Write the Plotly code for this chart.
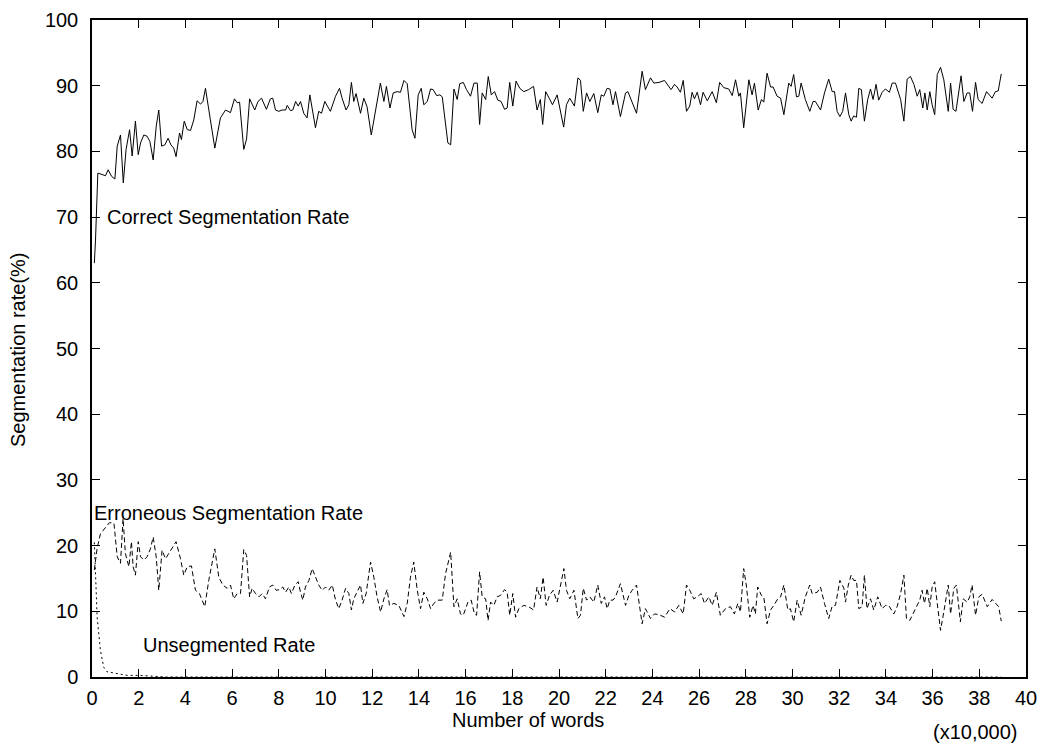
import plotly.graph_objects as go

# correct segmentation rate (%)
correct_x = [0.1, 0.15, 0.25, 0.44, 0.58, 0.69, 0.84, 0.98, 1.08, 1.22, 1.34, 1.46, 1.61, 1.72, 1.86, 1.98,
             2.08, 2.22, 2.36, 2.48, 2.62, 2.75, 2.86, 2.98, 3.12, 3.26, 3.38, 3.5, 3.6, 3.75, 3.83, 3.95,
             4.08, 4.22, 4.36, 4.5, 4.65, 4.75, 4.86, 5.07, 5.26, 5.5, 5.72, 5.93, 6.1, 6.22, 6.32, 6.5,
             6.62, 6.75, 6.97, 7.11, 7.26, 7.47, 7.64, 7.74, 7.86, 8.0, 8.14, 8.29, 8.36, 8.5, 8.6, 8.72,
             8.83, 8.93, 9.07, 9.21, 9.33, 9.57, 9.71, 9.83, 9.97, 10.21, 10.43, 10.6, 10.71, 10.88, 11.0,
             11.11, 11.21, 11.31, 11.5, 11.64, 11.78, 11.96, 12.14, 12.35, 12.5, 12.61, 12.76, 12.9, 13.07,
             13.21, 13.36, 13.5, 13.71, 13.83, 13.97, 14.1, 14.21, 14.36, 14.5, 14.61, 14.76, 14.9, 15.0,
             15.14, 15.24, 15.36, 15.5, 15.64, 15.75, 15.9, 16.04, 16.21, 16.36, 16.5, 16.6, 16.71, 16.86,
             16.97, 17.1, 17.24, 17.38, 17.52, 17.67, 17.78, 17.89, 18.02, 18.16, 18.32, 18.49, 18.7, 18.91,
             19.06, 19.2, 19.3, 19.43, 19.58, 19.72, 19.92, 20.06, 20.2, 20.32, 20.46, 20.66, 20.81, 20.92,
             21.04, 21.18, 21.32, 21.49, 21.66, 21.81, 21.92, 22.06, 22.18, 22.31, 22.42, 22.63, 22.85,
             22.95, 23.13, 23.32, 23.56, 23.7, 23.92, 24.06, 24.28, 24.52, 24.8, 24.95, 25.06, 25.2, 25.32,
             25.46, 25.6, 25.7, 25.8, 25.92, 26.06, 26.17, 26.35, 26.56, 26.74, 26.88, 27.06, 27.27, 27.42,
             27.56, 27.7, 27.77, 27.91, 28.13, 28.27, 28.37, 28.53, 28.67, 28.77, 28.91, 29.06, 29.17,
             29.34, 29.49, 29.63, 29.84, 29.94, 30.05, 30.17, 30.27, 30.37, 30.55, 30.74, 30.88, 30.98,
             31.2, 31.37, 31.55, 31.7, 31.8, 31.91, 32.03, 32.15, 32.27, 32.41, 32.51, 32.62, 32.74, 32.84,
             32.95, 33.08, 33.22, 33.34, 33.45, 33.58, 33.69, 33.84, 33.98, 34.15, 34.27, 34.41, 34.63,
             34.77, 34.91, 35.05, 35.2, 35.34, 35.45, 35.58, 35.67, 35.77, 35.88, 35.98, 36.09, 36.2, 36.34,
             36.48, 36.67, 36.77, 36.88, 37.0, 37.08, 37.22, 37.34, 37.48, 37.59, 37.71, 37.84, 37.95,
             38.12, 38.31, 38.55, 38.69, 38.81, 38.94]
correct_y = [63.0, 66.5, 76.7, 76.4, 76.3, 77.2, 76.2, 75.8, 80.8, 82.5, 75.2, 80.3, 83.3, 79.3, 84.6, 79.5,
             81.3, 82.5, 82.3, 81.5, 78.7, 83.8, 86.3, 80.8, 81.0, 82.0, 81.0, 80.5, 79.2, 82.8, 81.8, 84.6,
             83.3, 83.2, 84.8, 87.7, 87.2, 87.6, 89.6, 84.8, 80.5, 85.1, 86.3, 85.9, 88.0, 87.4, 87.5, 80.3,
             81.9, 88.0, 86.3, 87.6, 88.1, 86.4, 88.0, 88.1, 86.3, 86.1, 86.3, 86.3, 87.0, 86.2, 86.3, 87.6,
             86.9, 87.6, 85.8, 85.1, 88.6, 83.6, 86.1, 85.8, 87.6, 86.1, 88.4, 89.6, 88.1, 86.3, 87.1,
             90.5, 87.6, 88.8, 85.8, 88.1, 86.8, 82.5, 86.1, 90.4, 87.6, 89.9, 86.6, 88.9, 89.1,
             89.0, 90.8, 90.3, 83.3, 82.0, 88.6, 89.6, 87.1, 87.6, 89.5, 89.4, 88.5, 88.6, 88.3,
             84.3, 81.3, 81.0, 89.5, 87.9, 90.3, 90.5, 89.4, 88.4, 90.4, 90.4, 84.1, 88.9, 87.9,
             91.4, 88.6, 89.1, 87.8, 87.6, 86.4, 86.6, 90.5, 86.9, 90.7, 89.6, 89.1, 89.4, 89.9,
             86.3, 87.9, 84.1, 89.1, 88.1, 87.1, 88.6, 86.1, 83.7, 87.1, 88.1, 86.9, 91.2, 90.8,
             86.1, 88.9, 87.6, 88.8, 85.9, 88.6, 88.4, 89.6, 89.5, 87.1, 89.1, 85.3, 88.9,
             89.1, 87.5, 85.8, 92.2, 89.4, 91.2, 90.4, 90.5, 90.8, 89.4, 90.2, 89.8, 89.0, 90.8,
             86.1, 86.9, 89.0, 88.0, 89.0, 87.1, 89.0, 87.7, 89.1, 87.4, 90.5, 89.7, 89.5, 88.5,
             90.9, 88.4, 88.9, 83.6, 90.9, 88.6, 90.4, 86.3, 87.9, 87.5, 91.9, 89.8, 89.8,
             88.4, 88.1, 85.6, 90.4, 89.9, 91.7, 88.3, 88.4, 90.4, 87.9, 86.1, 87.6, 87.6,
             86.3, 88.9, 91.0, 89.1, 89.1, 86.1, 85.3, 86.1, 88.9, 85.6, 84.6, 85.4, 85.2, 89.6,
             89.4, 84.6, 87.9, 89.5, 87.9, 90.2, 87.8, 89.0, 89.5, 89.0, 90.4, 90.4, 87.9,
             84.6, 91.0, 91.4, 90.2, 88.4, 89.4, 86.6, 88.9, 86.3, 89.1, 87.1, 85.6, 91.7, 92.8,
             90.9, 86.1, 90.4, 86.4, 86.1, 88.4, 91.5, 87.6, 88.9, 88.9, 86.1, 90.5, 87.9,
             87.3, 89.1, 88.1, 89.1, 89.2, 91.8]

# erroneous segmentation rate (%)
error_x = [0.1, 0.22, 0.36, 0.58, 0.75, 0.94, 1.08, 1.22, 1.33, 1.43, 1.58, 1.69, 1.76, 1.86, 1.98, 2.08,
           2.22, 2.36, 2.5, 2.62, 2.75, 2.86, 3.0, 3.15, 3.36, 3.6, 3.79, 3.93, 4.08, 4.26, 4.43, 4.6,
           4.83, 5.0, 5.26, 5.43, 5.6, 5.79, 5.93, 6.07, 6.22, 6.36, 6.5, 6.62, 6.75, 6.86, 7.0, 7.15,
           7.29, 7.43, 7.6, 7.74, 7.89, 8.03, 8.17, 8.29, 8.43, 8.54, 8.69, 8.83, 8.93, 9.03, 9.14, 9.29,
           9.43, 9.57, 9.71, 9.86, 10.0, 10.14, 10.29, 10.43, 10.57, 10.71, 10.86, 11.0, 11.11, 11.21,
           11.36, 11.5, 11.6, 11.74, 11.93, 12.07, 12.21, 12.36, 12.5, 12.64, 12.74, 12.93, 13.14, 13.36,
           13.5, 13.64, 13.78, 13.93, 14.07, 14.21, 14.36, 14.5, 14.64, 14.81, 15.0, 15.14, 15.36, 15.5,
           15.64, 15.78, 15.9, 16.1, 16.24, 16.38, 16.47, 16.6, 16.71, 16.86, 16.96, 17.07, 17.21, 17.35,
           17.49, 17.67, 17.78, 17.89, 18.02, 18.14, 18.28, 18.49, 18.7, 18.91, 19.06, 19.2, 19.32, 19.45,
           19.59, 19.75, 19.92, 20.06, 20.21, 20.32, 20.46, 20.64, 20.81, 20.92, 21.04, 21.18, 21.32,
           21.49, 21.66, 21.81, 21.95, 22.06, 22.18, 22.31, 22.42, 22.63, 22.85, 22.99, 23.13, 23.32,
           23.42, 23.56, 23.7, 23.92, 24.09, 24.28, 24.52, 24.75, 24.95, 25.13, 25.32, 25.46, 25.6, 25.77,
           25.92, 26.09, 26.23, 26.42, 26.56, 26.74, 26.91, 27.13, 27.34, 27.51, 27.66, 27.77, 27.91,
           28.02, 28.17, 28.31, 28.41, 28.51, 28.67, 28.77, 28.91, 29.06, 29.2, 29.37, 29.49, 29.63, 29.8,
           29.91, 30.05, 30.2, 30.37, 30.55, 30.74, 30.84, 31.06, 31.2, 31.37, 31.55, 31.7, 31.84, 32.03,
           32.2, 32.27, 32.39, 32.51, 32.62, 32.74, 32.84, 32.98, 33.08, 33.19, 33.34, 33.48, 33.65,
           33.84, 33.98, 34.12, 34.34, 34.48, 34.63, 34.77, 34.88, 35.02, 35.2, 35.34, 35.45, 35.55,
           35.65, 35.77, 35.88, 35.98, 36.09, 36.2, 36.34, 36.48, 36.67, 36.77, 36.91, 37.02, 37.19,
           37.31, 37.48, 37.59, 37.69, 37.84, 37.98, 38.12, 38.34, 38.55, 38.76, 38.83, 38.94]
error_y = [16.3, 19.6, 21.8, 22.8, 23.5, 23.4, 18.3, 17.3, 24.1, 18.8, 16.8, 20.6, 16.8, 15.5, 20.6, 18.3,
           17.8, 18.3, 19.5, 21.3, 18.3, 13.2, 19.3, 18.0, 19.3, 20.6, 18.0, 15.5, 16.8, 16.9, 13.2, 12.7,
           10.7, 14.7, 19.5, 15.2, 14.0, 13.5, 14.0, 11.9, 12.7, 12.7, 19.4, 18.5, 12.2, 13.5, 12.7, 12.2,
           12.7, 11.9, 13.7, 14.0, 13.2, 13.3, 13.7, 12.9, 13.7, 12.7, 14.0, 14.5, 12.9, 11.7, 13.7, 14.7,
           16.5, 15.2, 14.0, 13.2, 13.7, 13.2, 14.0, 11.7, 10.4, 11.7, 13.5, 12.7, 10.2, 11.9,
           12.9, 14.0, 11.2, 12.7, 17.5, 15.2, 12.2, 9.9, 11.9, 13.3, 10.9, 11.2, 10.9, 9.2,
           11.2, 15.2, 17.5, 13.2, 10.4, 12.9, 11.9, 10.4, 11.2, 11.7, 11.7, 15.7, 19.0, 10.7,
           11.9, 9.6, 9.4, 11.4, 11.7, 9.6, 9.4, 16.0, 12.2, 11.9, 8.6, 11.4, 10.9, 12.2,
           12.4, 13.3, 12.9, 9.4, 12.7, 9.1, 10.4, 10.9, 10.7, 10.2, 13.7, 11.9, 15.2, 10.9,
           12.4, 13.2, 11.4, 13.7, 16.5, 13.2, 11.9, 13.2, 8.9, 9.4, 13.5, 11.7, 12.2,
           11.4, 14.0, 11.2, 12.2, 10.4, 11.7, 11.7, 12.2, 14.2, 10.9, 12.4, 13.2, 14.0,
           11.7, 8.1, 10.4, 8.9, 9.6, 9.5, 9.1, 10.4, 9.9, 10.9, 9.6, 14.0, 13.2, 11.9,
           12.2, 12.7, 11.2, 12.2, 10.9, 12.9, 9.4, 10.4, 10.7, 9.6, 11.2, 9.9, 16.5,
           14.0, 9.1, 10.9, 9.6, 13.7, 12.4, 12.2, 8.1, 10.2, 10.9, 11.9, 12.2, 14.0, 10.2,
           10.4, 8.4, 11.7, 9.4, 12.2, 14.0, 12.7, 12.9, 13.7, 11.2, 8.9, 10.8, 10.9, 14.7,
           13.5, 11.4, 14.0, 15.5, 14.7, 14.7, 10.4, 10.7, 15.5, 10.4, 11.9, 10.2, 12.2,
           10.4, 10.9, 10.9, 9.6, 10.7, 12.7, 15.5, 8.9, 8.6, 9.9, 10.9, 11.7, 13.2,
           11.2, 13.5, 10.7, 13.7, 14.5, 11.2, 7.1, 9.9, 14.0, 9.6, 13.5, 14.0, 8.4,
           11.9, 11.4, 12.2, 14.0, 9.4, 12.2, 12.6, 10.7, 11.8, 10.9, 10.7, 8.5]

# unsegmented rate (%)
unseg_x = [0.1, 0.22, 0.36, 0.5, 0.64, 0.93, 1.15, 1.5, 2.0, 2.6, 3.2, 38.94]
unseg_y = [20.5, 9.1, 4.1, 1.5, 0.8, 0.6, 0.5, 0.25, 0.25, 0.1, 0.0, 0.0]

x_ticks = list(range(0, 41, 2))
y_ticks = list(range(0, 101, 10))

font_name = "Liberation Sans, Arial, sans-serif"
fsize = 20

fig = go.Figure()
fig.add_trace(go.Scatter(x=correct_x, y=correct_y, mode="lines",
                         line=dict(color="black", width=1)))
fig.add_trace(go.Scatter(x=error_x, y=error_y, mode="lines",
                         line=dict(color="black", width=1, dash="5px,3px")))
fig.add_trace(go.Scatter(x=unseg_x, y=unseg_y, mode="lines",
                         line=dict(color="black", width=1, dash="2px,3px")))

fig.update_layout(
    width=1043, height=744,
    margin=dict(l=92, r=17, t=20, b=67),
    plot_bgcolor="white", paper_bgcolor="white",
    showlegend=False,
    font=dict(family=font_name, size=fsize, color="black"),
)
fig.update_xaxes(range=[0, 40], tickvals=x_ticks, ticks="inside", ticklen=8, tickcolor="black",
                 showline=True, linecolor="black", linewidth=1.5, mirror="ticks",
                 showgrid=False, zeroline=False, ticklabelstandoff=2, automargin=False)
fig.update_yaxes(range=[0, 100], tickvals=y_ticks, ticks="inside", ticklen=8, tickcolor="black",
                 showline=True, linecolor="black", linewidth=1.5, mirror="ticks",
                 showgrid=False, zeroline=False, ticklabelstandoff=8, automargin=False)

labels = [
    (0.66, 70, "Correct Segmentation Rate"),
    (0.1, 24.9, "Erroneous Segmentation Rate"),
    (2.2, 4.9, "Unsegmented Rate"),
]
for lx, ly, txt in labels:
    fig.add_annotation(x=lx, y=ly, text=txt, showarrow=False, xanchor="left", yanchor="middle",
                       xshift=-2, font=dict(size=fsize))

fig.add_annotation(x=0.467, y=-0.066, xref="paper", yref="paper", text="Number of words",
                   showarrow=False, yanchor="middle", font=dict(size=fsize))
fig.add_annotation(x=0.994, y=-0.084, xref="paper", yref="paper", text="(x10,000)",
                   showarrow=False, xanchor="right", yanchor="middle", font=dict(size=fsize))
fig.add_annotation(x=-0.079, y=0.498, xref="paper", yref="paper", text="Segmentation rate(%)",
                   showarrow=False, textangle=-90, xanchor="center", yanchor="middle",
                   font=dict(size=fsize))

# drop the default page margin so the figure sits at the window's corner
fig.write_html("out.html", config={"displayModeBar": False},
               post_script="document.body.style.margin='0';")
